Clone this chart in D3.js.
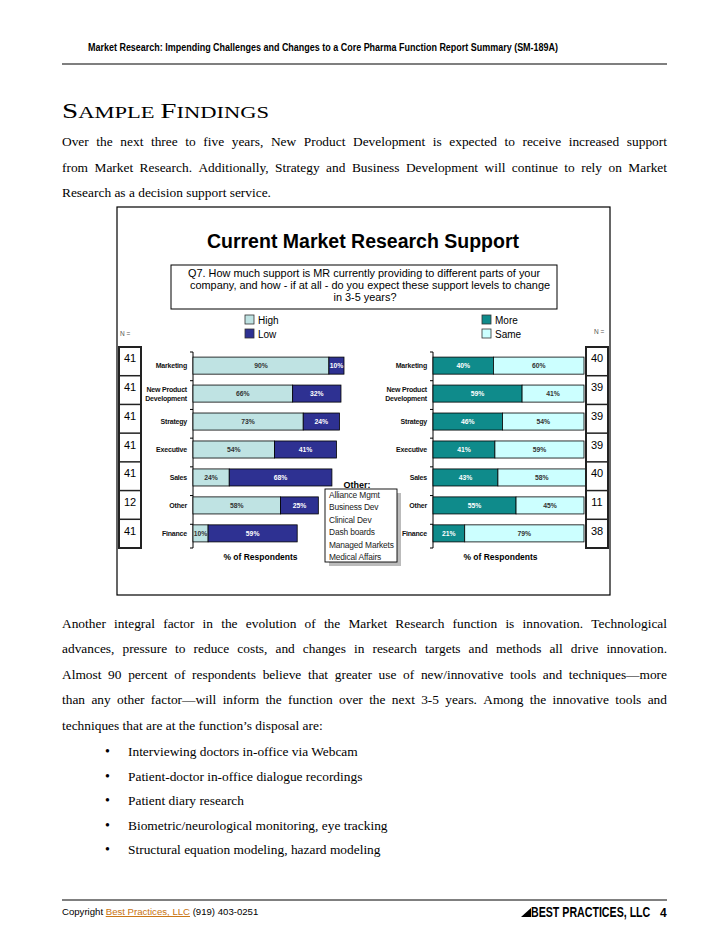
<!DOCTYPE html>
<html lang="en">
<head>
<meta charset="utf-8">
<script src="https://d3js.org/d3.v7.min.js"></script>
<title>Current Market Research Support</title>
<style>
  body { margin: 0; background: #fff; }
  svg text { font-family: "Liberation Sans", Arial, sans-serif; }
  .serif { font-family: "Liberation Serif", "Times New Roman", serif !important; }
</style>
</head>
<body>
<div id="page"></div>
<script type="text/javascript">
// chart data
var categories = ["Marketing", "New Product Development", "Strategy", "Executive", "Sales", "Other", "Finance"];
var highVals = [90, 66, 73, 54, 24, 58, 10];
var lowVals  = [10, 32, 24, 41, 68, 25, 59];
var moreVals = [40, 59, 46, 41, 43, 55, 21];
var sameVals = [60, 41, 54, 59, 58, 45, 79];
var nLeft  = [41, 41, 41, 41, 41, 12, 41];
var nRight = [40, 39, 39, 39, 40, 11, 38];
var otherItems = ["Alliance Mgmt", "Business Dev", "Clinical Dev", "Dash boards", "Managed Markets", "Medical Affairs"];

var para1 = [
  "Over the next three to five years, New Product Development is expected to receive increased support",
  "from Market Research. Additionally, Strategy and Business Development will continue to rely on Market",
  "Research as a decision support service."];
var para2 = [
  "Another integral factor in the evolution of the Market Research function is innovation. Technological",
  "advances, pressure to reduce costs, and changes in research targets and methods all drive innovation.",
  "Almost 90 percent of respondents believe that greater use of new/innovative tools and techniques\u2014more",
  "than any other factor\u2014will inform the function over the next 3-5 years.  Among the innovative tools and",
  "techniques that are at the function\u2019s disposal are:"];
var bullets = [
  "Interviewing doctors in-office via Webcam",
  "Patient-doctor in-office dialogue recordings",
  "Patient diary research",
  "Biometric/neurological monitoring, eye tracking",
  "Structural equation modeling, hazard modeling"];

var colHigh = "#bfe3e3", colLow = "#2e3192", colMore = "#0f8b8b", colSame = "#ccffff";

var W = 728, H = 943;
var svg = d3.select("#page").append("svg")
    .attr("width", W).attr("height", H);
svg.append("rect").attr("width", W).attr("height", H).attr("fill", "#fff");

// header
svg.append("text").attr("x", 88).attr("y", 51)
   .attr("font-size", 10.5).attr("font-weight", "bold")
   .attr("textLength", 470).attr("lengthAdjust", "spacingAndGlyphs")
   .text("Market Research: Impending Challenges and Changes to a Core Pharma Function Report Summary (SM-189A)");
svg.append("line").attr("x1", 62).attr("x2", 667).attr("y1", 64).attr("y2", 64)
   .attr("stroke", "#000").attr("stroke-width", 1.2);

// section heading (small caps)
var hd = svg.append("text").attr("class", "serif").attr("x", 62).attr("y", 118)
   .attr("textLength", 207).attr("lengthAdjust", "spacingAndGlyphs");
hd.append("tspan").attr("font-size", 22).text("S");
hd.append("tspan").attr("font-size", 17).text("AMPLE ");
hd.append("tspan").attr("font-size", 22).text("F");
hd.append("tspan").attr("font-size", 17).text("INDINGS");

// justified body lines
function justifyLine(str, x0, x1, y, justify) {
  var t = svg.append("text").attr("class", "serif").attr("y", y).attr("font-size", 13.4);
  if (!justify) { t.attr("x", x0).text(str); return; }
  var words = str.split(/\s+/);
  var spans = words.map(function(w) { return t.append("tspan").text(w); });
  var widths = spans.map(function(s) { return s.node().getComputedTextLength(); });
  var total = d3.sum(widths);
  var gap = (x1 - x0 - total) / (words.length - 1);
  var x = x0;
  spans.forEach(function(s, i) { s.attr("x", x); x += widths[i] + gap; });
}
para1.forEach(function(l, i) { justifyLine(l, 62, 667, 146 + i * 25.5, i < para1.length - 1); });
para2.forEach(function(l, i) { justifyLine(l, 62, 667, 628 + i * 25.4, i < para2.length - 1); });
bullets.forEach(function(b, i) {
  var y = 756 + i * 24.5;
  svg.append("text").attr("class", "serif").attr("x", 105).attr("y", y).attr("font-size", 14).text("\u2022");
  svg.append("text").attr("class", "serif").attr("x", 128).attr("y", y).attr("font-size", 13.4).text(b);
});

// chart frame
svg.append("rect").attr("x", 117).attr("y", 207).attr("width", 493).attr("height", 388)
   .attr("fill", "none").attr("stroke", "#000").attr("stroke-width", 1.2);
svg.append("text").attr("x", 363).attr("y", 248).attr("text-anchor", "middle")
   .attr("font-size", 19.5).attr("font-weight", "bold")
   .text("Current Market Research Support");

// question box
svg.append("rect").attr("x", 171).attr("y", 265).attr("width", 386).attr("height", 44)
   .attr("fill", "#fff").attr("stroke", "#000").attr("stroke-width", 1);
["Q7. How much support is MR currently providing to different parts of your",
 "company, and how - if at all - do you expect these support levels to change",
 "in 3-5 years?"].forEach(function(l, i) {
  svg.append("text").attr("x", i == 0 ? 188 : (i == 1 ? 190 : 365)).attr("y", 277 + i * 11.8)
     .attr("text-anchor", i == 2 ? "middle" : "start")
     .attr("font-size", 10.9).text(l);
});

// legends
function legendItem(x, y, col, label) {
  svg.append("rect").attr("x", x).attr("y", y).attr("width", 9).attr("height", 9)
     .attr("fill", col).attr("stroke", "#333").attr("stroke-width", 0.8);
  svg.append("text").attr("x", x + 13).attr("y", y + 8.5).attr("font-size", 10).text(label);
}
legendItem(245, 315, colHigh, "High");
legendItem(245, 329, colLow, "Low");
legendItem(482, 315, colMore, "More");
legendItem(482, 329, colSame, "Same");
svg.append("text").attr("x", 120).attr("y", 336).attr("font-size", 6.5).attr("fill", "#555").text("N =");
svg.append("text").attr("x", 594).attr("y", 334).attr("font-size", 6.5).attr("fill", "#555").text("N =");

// scales
var yBar = d3.scaleBand().domain(categories).range([351.5, 547.5]).paddingInner(0.39).paddingOuter(0.2);
var yRow = d3.scaleBand().domain(categories).range([347, 548]);
var xL = d3.scaleLinear().domain([0, 100]).range([193, 344]);
var xR = d3.scaleLinear().domain([0, 100]).range([433, 584]);

function drawPanel(xs, aVals, bVals, colA, colB, txtA, txtB) {
  var g = svg.append("g");
  // axis with ticks at category boundaries
  var ax = xs(0);
  g.append("line").attr("x1", ax).attr("x2", ax).attr("y1", yRow.range()[0] + 5).attr("y2", yRow.range()[1])
   .attr("stroke", "#000");
  var bounds = categories.map(function(c) { return yRow(c) + 5; }).concat([yRow.range()[1]]);
  g.selectAll(".tk").data(bounds).enter().append("line")
   .attr("x1", ax - 3).attr("x2", ax).attr("y1", function(d) { return d; }).attr("y2", function(d) { return d; })
   .attr("stroke", "#000");
  categories.forEach(function(c, i) {
    var y = yBar(c), h = yBar.bandwidth();
    var a = aVals[i], b = bVals[i];
    g.append("rect").attr("x", xs(0)).attr("y", y).attr("width", xs(a) - xs(0)).attr("height", h)
     .attr("fill", colA).attr("stroke", "#000").attr("stroke-width", 0.8);
    g.append("rect").attr("x", xs(a)).attr("y", y).attr("width", xs(a + b) - xs(a)).attr("height", h)
     .attr("fill", colB).attr("stroke", "#000").attr("stroke-width", 0.8);
    g.append("text").attr("x", (xs(0) + xs(a)) / 2).attr("y", y + h / 2 + 2.5)
     .attr("text-anchor", "middle").attr("font-size", 6.8).attr("font-weight", "bold").attr("fill", txtA)
     .text(a + "%");
    g.append("text").attr("x", (xs(a) + xs(a + b)) / 2).attr("y", y + h / 2 + 2.5)
     .attr("text-anchor", "middle").attr("font-size", 6.8).attr("font-weight", "bold").attr("fill", txtB)
     .text(b + "%");
    // category label
    var lab = g.append("text").attr("x", ax - 6).attr("text-anchor", "end")
     .attr("font-size", 7).attr("font-weight", "bold").attr("letter-spacing", -0.2).attr("fill", "#111");
    if (c == "New Product Development") {
      lab.append("tspan").attr("x", ax - 6).attr("y", y + h / 2 - 1.5).text("New Product");
      lab.append("tspan").attr("x", ax - 6).attr("y", y + h / 2 + 7.5).text("Development");
    } else {
      lab.attr("y", y + h / 2 + 2.5).text(c);
    }
  });
  g.append("text").attr("x", (xs(0) + xs(100)) / 2 - 8).attr("y", 560).attr("text-anchor", "middle")
   .attr("font-size", 8.5).attr("font-weight", "bold").text("% of Respondents");
}
drawPanel(xL, highVals, lowVals, colHigh, colLow, "#333", "#fff");
drawPanel(xR, moreVals, sameVals, colMore, colSame, "#fff", "#333");

// N boxes
function nBox(x0, w, vals) {
  var g = svg.append("g");
  g.append("rect").attr("x", x0).attr("y", yRow.range()[0]).attr("width", w)
   .attr("height", yRow.range()[1] - yRow.range()[0])
   .attr("fill", "#fff").attr("stroke", "#222").attr("stroke-width", 2);
  categories.forEach(function(c, i) {
    if (i > 0) g.append("line").attr("x1", x0).attr("x2", x0 + w).attr("y1", yRow(c)).attr("y2", yRow(c))
                .attr("stroke", "#222").attr("stroke-width", 1.5);
    g.append("text").attr("x", x0 + w / 2).attr("y", yRow(c) + yRow.bandwidth() / 2 + 1)
     .attr("text-anchor", "middle").attr("font-size", 11).text(vals[i]);
  });
}
nBox(119, 22, nLeft);
nBox(586, 22, nRight);

// "Other" box
svg.append("text").attr("x", 357).attr("y", 488).attr("text-anchor", "middle")
   .attr("font-size", 9).attr("font-weight", "bold").attr("text-decoration", "underline").text("Other:");
svg.append("rect").attr("x", 329).attr("y", 493).attr("width", 72).attr("height", 73).attr("fill", "#bbb");
svg.append("rect").attr("x", 325).attr("y", 489).attr("width", 72).attr("height", 73)
   .attr("fill", "#fff").attr("stroke", "#000").attr("stroke-width", 0.9);
otherItems.forEach(function(t, i) {
  svg.append("text").attr("x", 329).attr("y", 498 + i * 12.4).attr("font-size", 8.4)
     .attr("letter-spacing", -0.15).attr("fill", "#222").text(t);
});

// footer
svg.append("line").attr("x1", 62).attr("x2", 667).attr("y1", 900).attr("y2", 900)
   .attr("stroke", "#000").attr("stroke-width", 1);
var ft = svg.append("text").attr("x", 62).attr("y", 915).attr("font-size", 9.6);
ft.append("tspan").text("Copyright ");
ft.append("tspan").attr("fill", "#c8720e").attr("text-decoration", "underline").text("Best Practices, LLC");
ft.append("tspan").text(" (919) 403-0251");
svg.append("path").attr("d", "M521,917 L531,908 L531,917 Z").attr("fill", "#000");
svg.append("g").attr("transform", "translate(531,917) scale(0.76,1)")
   .append("text").attr("x", 0).attr("y", 0).attr("font-size", 14).attr("font-weight", "bold")
   .text("BEST PRACTICES, LLC");
svg.append("text").attr("x", 660).attr("y", 917).attr("font-size", 12).attr("font-weight", "bold").text("4");
</script>
</body>
</html>
